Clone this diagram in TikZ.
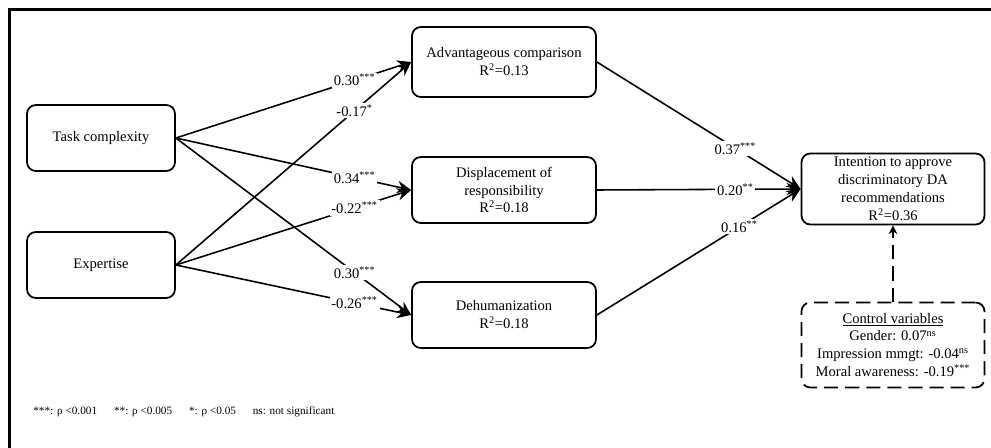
\documentclass[tikz,border=0pt]{standalone}
\usepackage{fontspec}
\setmainfont{Liberation Serif}
\usetikzlibrary{arrows.meta,positioning}

\tikzset{varbox/.style={draw,line width=1pt,rounded corners=5pt,align=center,minimum width=3.68cm,minimum height=1.32cm,font=\fontsize{8.3}{10.2}\selectfont},
    link/.style={line width=0.9pt,-{Stealth[length=8pt,width=7pt]}},
    coef/.style={fill=white,inner sep=1pt,font=\fontsize{8.3}{10.2}\selectfont}}

\begin{document}
\begin{tikzpicture}[x=0.02cm,y=-0.02cm]
        \useasboundingbox (0,0) rectangle (991,448);
        \clip (0,0) rectangle (991,448);
        \draw[line width=1.2pt] (9.5,470) |- (1010,9.5);
        % variables
        \node[varbox,minimum width=2.96cm] (tc) at (101,138) {Task complexity};
        \node[varbox,minimum width=2.96cm] (exp) at (101,265) {Expertise};
        \node[varbox,minimum height=1.4cm] (adv) at (504,62) {Advantageous comparison\\R\textsuperscript{2}=0.13};
        \node[varbox] (disp) at (504,190) {Displacement of\\responsibility\\R\textsuperscript{2}=0.18};
        \node[varbox] (dehum) at (504,315) {Dehumanization\\R\textsuperscript{2}=0.18};
        \node[varbox,minimum width=3.66cm,minimum height=1.42cm,inner sep=1pt] (intent) at (893,189) {Intention to approve\\discriminatory DA\\recommendations\\R\textsuperscript{2}=0.36};
        \node[varbox,dashed,dash pattern=on 8pt off 4pt,minimum width=3.66cm,minimum height=1.7cm] (ctrl) at (893,345) {\underline{Control variables}\\Gender: 0.07\textsuperscript{ns}\\Impression mmgt: -0.04\textsuperscript{ns}\\Moral awareness: -0.19\textsuperscript{***}};
        % paths
        \draw[link] (tc.east) -- node[coef,pos=0.76] {0.30\textsuperscript{***}} (adv.west);
        \draw[link] (exp.east) -- node[coef,pos=0.76] {-0.17\textsuperscript{*}} (adv.west);
        \draw[link] (tc.east) -- node[coef,pos=0.76] {0.34\textsuperscript{***}} (disp.west);
        \draw[link] (exp.east) -- node[coef,pos=0.76] {-0.22\textsuperscript{***}} (disp.west);
        \draw[link] (tc.east) -- node[coef,pos=0.76] {0.30\textsuperscript{***}} (dehum.west);
        \draw[link] (exp.east) -- node[coef,pos=0.76] {-0.26\textsuperscript{***}} (dehum.west);
        \draw[link] (adv.east) -- node[coef,pos=0.68] {0.37\textsuperscript{***}} (intent.west);
        \draw[link] (disp.east) -- node[coef,pos=0.68] {0.20\textsuperscript{**}} (intent.west);
        \draw[link] (dehum.east) -- node[coef,pos=0.7] {0.16\textsuperscript{**}} (intent.west);
        \draw[line width=0.9pt,dash pattern=on 8pt off 4pt,-{Stealth[length=5pt,width=5pt]}] (ctrl.north) -- (intent.south);
        % note
        \node[anchor=west,inner sep=0pt,font=\fontsize{6.4}{7.5}\selectfont] (note) at (33,412) {***: ρ <0.001\quad\ \ **: ρ <0.005\quad\ \ *: ρ <0.05\quad\ \ ns: not significant};
    \end{tikzpicture}
\end{document}
